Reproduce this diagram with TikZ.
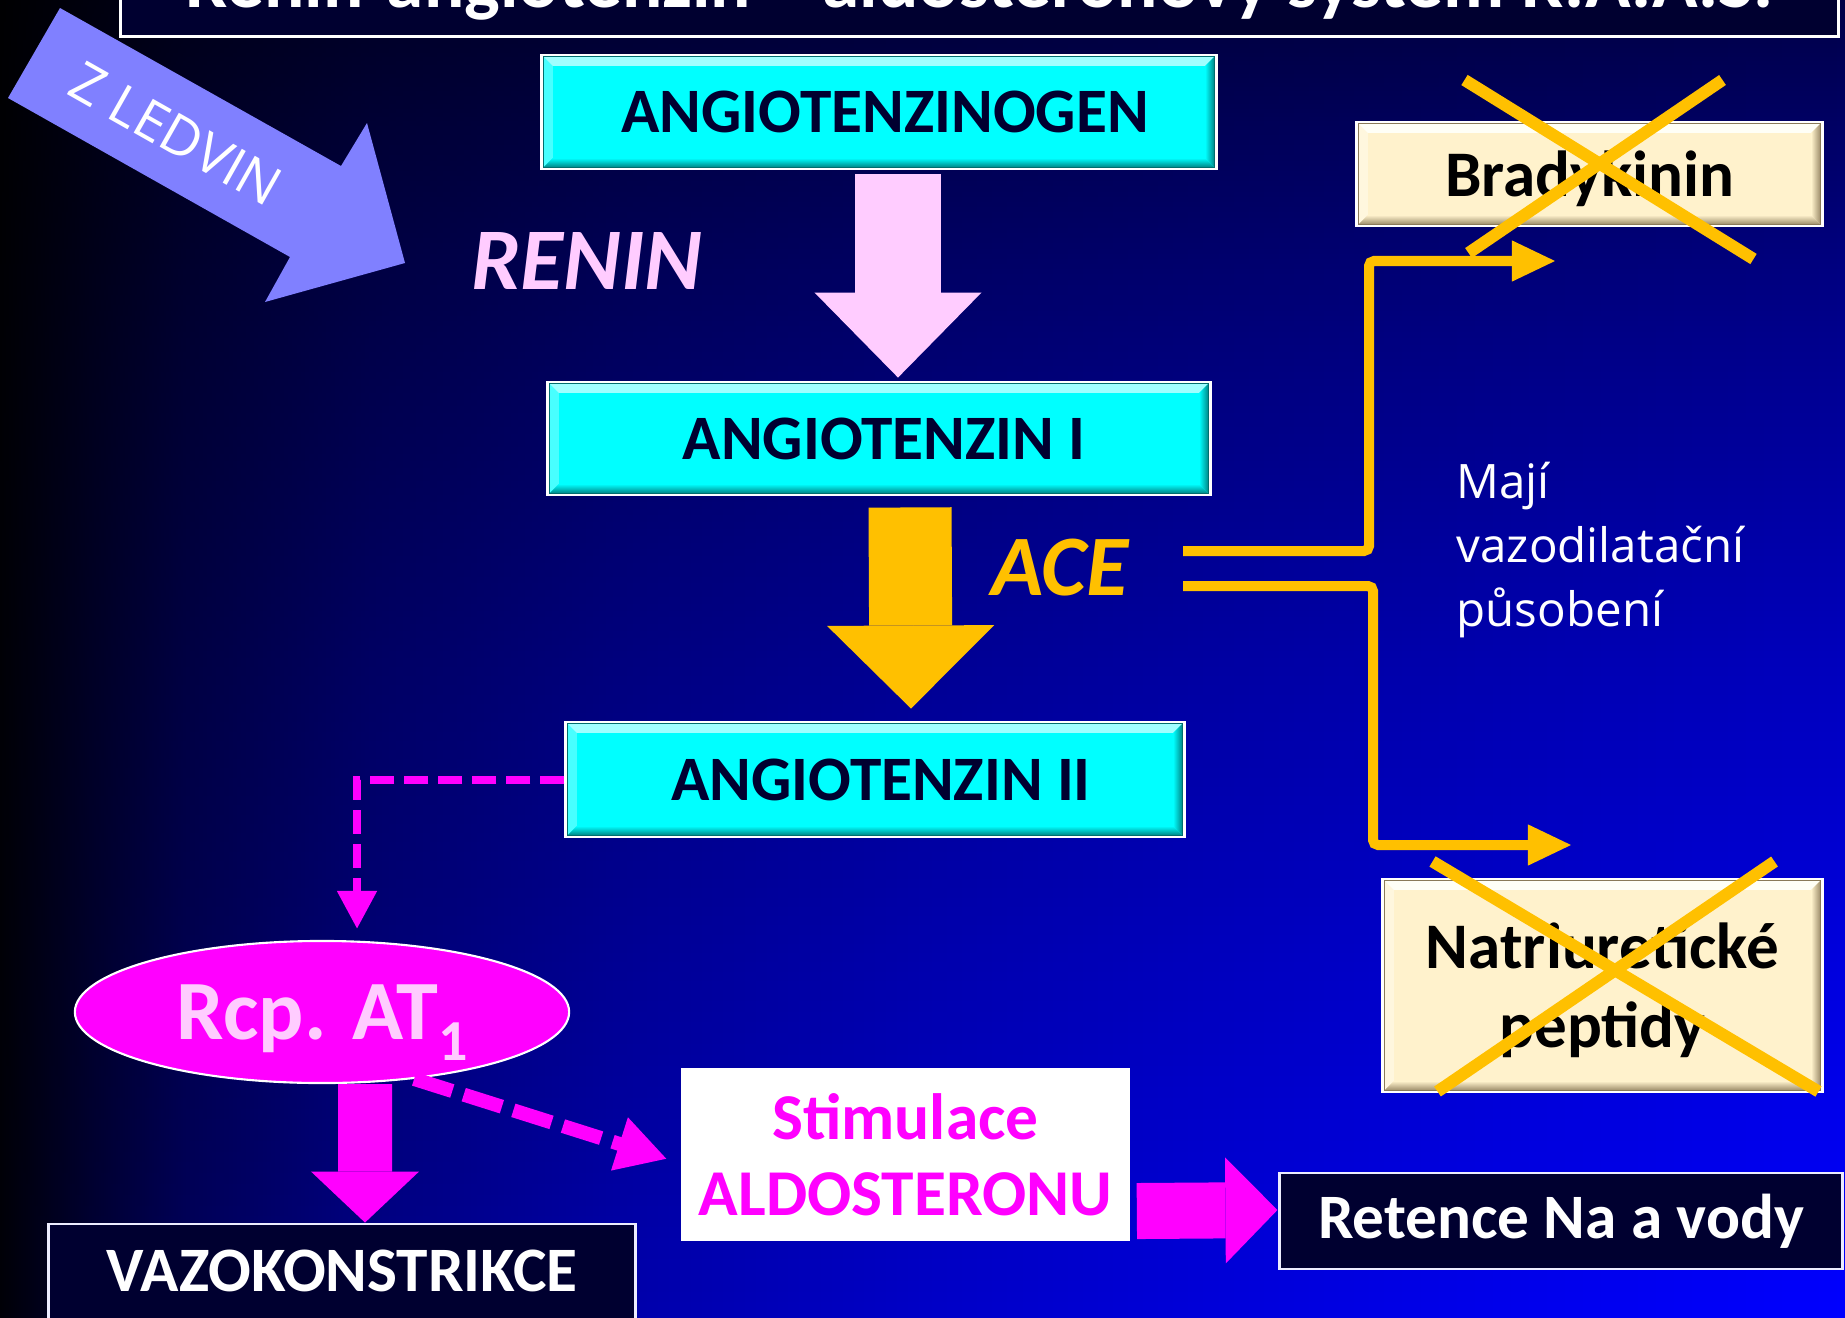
\documentclass[tikz,border=0pt]{standalone}
\usepackage{fontspec}
\setmainfont{Carlito}
\newfontfamily\opensans{Open Sans}
\usepackage{tikz}
\usetikzlibrary{arrows.meta,positioning,calc,shapes.geometric}
\definecolor{raasPanel}{HTML}{000030}
\definecolor{raasCyan}{HTML}{00FFFF}
\definecolor{raasCyanLt}{HTML}{A0FFFF}
\definecolor{raasTeal}{HTML}{006E6E}
\definecolor{raasInk}{HTML}{000030}
\definecolor{raasCream}{HTML}{FFF2CC}
\definecolor{raasCreamLt}{HTML}{FFFFF6}
\definecolor{raasCreamDk}{HTML}{8A7A58}
\definecolor{raasPink}{HTML}{FFCCFF}
\definecolor{raasGold}{HTML}{FFC000}
\definecolor{raasMagenta}{HTML}{FF00FF}
\definecolor{raasLilac}{HTML}{8080FF}
% backdrop: blue rising towards the bottom, darkened towards the left
\pgfdeclareverticalshading{raasSky}{100bp}{rgb(0bp)=(0,0,1); rgb(25bp)=(0,0,1); rgb(37.5bp)=(0,0,.88);
  rgb(50bp)=(0,0,.74); rgb(62.5bp)=(0,0,.55); rgb(70bp)=(0,0,.4); rgb(75bp)=(0,0,.28); rgb(100bp)=(0,0,.28)}
\pgfdeclarehorizontalshading{raasShade}{100bp}{gray(0bp)=(.03); gray(25bp)=(.03); gray(27.5bp)=(.2);
  gray(30bp)=(.35); gray(35bp)=(.52); gray(42.5bp)=(.68); gray(50bp)=(.78); gray(62.5bp)=(.9);
  gray(75bp)=(1); gray(100bp)=(1)}
\tikzset{
  bevel/.style n args={3}{fill=#1,path picture={
    \fill[#2] (path picture bounding box.north west) -- (path picture bounding box.north east)
      -- ([shift={(-1.1mm,-1.1mm)}]path picture bounding box.north east)
      -- ([shift={(1.1mm,-1.1mm)}]path picture bounding box.north west) -- cycle;
    \fill[#2,opacity=.45] (path picture bounding box.north west) -- ([shift={(1.1mm,-1.1mm)}]path picture bounding box.north west)
      -- ([shift={(1.1mm,1.1mm)}]path picture bounding box.south west) -- (path picture bounding box.south west) -- cycle;
    \shade[top color=#1,bottom color=#3] (path picture bounding box.south west) -- (path picture bounding box.south east)
      -- ([shift={(-1.1mm,1.1mm)}]path picture bounding box.south east)
      -- ([shift={(1.1mm,1.1mm)}]path picture bounding box.south west) -- cycle;
    \shade[left color=#1,right color=#3] (path picture bounding box.north east) -- (path picture bounding box.south east)
      -- ([shift={(-1.1mm,1.1mm)}]path picture bounding box.south east)
      -- ([shift={(-1.1mm,-1.1mm)}]path picture bounding box.north east) -- cycle;
    \draw[#3,line width=1.2pt] (path picture bounding box.south west) rectangle (path picture bounding box.north east);
  }},
  chem box/.style={bevel={raasCyan}{raasCyanLt}{raasTeal},draw=white,line width=.8pt,
    text=raasInk,font=\bfseries\fontsize{18}{20}\selectfont,inner sep=0pt},
  cream box/.style={bevel={raasCream}{raasCreamLt}{raasCreamDk},draw=white,line width=.8pt,
    text=black,font=\bfseries\fontsize{18.5}{22.5}\selectfont,align=center,inner sep=0pt,text depth=0pt},
  panel box/.style={draw=white!85!raasLilac,line width=.8pt,fill=raasPanel,text=white,
    font=\bfseries\fontsize{18}{20}\selectfont,inner sep=0pt},
  title box/.style={draw=white,line width=.8pt,fill=raasPanel,text=white,
    font=\bfseries\fontsize{21.4}{24}\selectfont,inner sep=0pt},
  enzyme/.style={inner sep=0pt,font=\bfseries\itshape\fontsize{#1}{#1}\selectfont},
  fat arrow/.style n args={3}{line width=#1,-{Triangle[length=#2,width=#3,line width=0pt]}},
  gold line/.style={raasGold,line width=.1cm,rounded corners=.05cm,-{Triangle[length=.44cm,width=.38cm]}},
  gold cross/.style={raasGold,line width=.12cm},
  link dash/.style={raasMagenta,line width=.08cm,dash pattern=on .24cm off .1cm,-{Triangle[length=.38cm,width=.38cm]}}
}
\begin{document}
\begin{tikzpicture}[x=0.01cm,y=-0.01cm]
\useasboundingbox (0,0) rectangle (1845,1318);
\clip (0,0) rectangle (1845,1318);
\shade[shading=raasSky] (0,0) rectangle (1845,1318);
\begin{scope}[blend mode=multiply]
\shade[shading=raasShade] (0,0) rectangle (1845,1318);
\end{scope}
% title, cut off by the top edge
\node[title box,anchor=south,minimum width=17.17cm,minimum height=.99cm] (title) at (979.5,38) {Renin-angiotenzin – aldosteronový systém R.A.A.S.};
% arrow coming from the kidneys
\fill[raasLilac] (60,8) -- (341,166) -- (367,123) -- (405,263) -- (265,302) -- (290,257) -- (8,98) -- cycle;
\node[rotate=-29.5,text=white,inner sep=0pt,font=\opensans\fontsize{15.5}{18}\selectfont] (kidney) at (176,134) {Z LEDVIN};
% cascade
\node[chem box,minimum width=6.74cm,minimum height=1.14cm] (ago) at (879,112) {\hspace*{.12cm}ANGIOTENZINOGEN};
\node[chem box,minimum width=6.62cm,minimum height=1.13cm] (at1) at (879,438.5) {\hspace*{.1cm}ANGIOTENZIN I};
\node[chem box,minimum width=6.18cm,minimum height=1.15cm] (at2) at (875,779.5) {\hspace*{.12cm}ANGIOTENZIN II};
\node[enzyme=25,text=raasPink] (renin) at (587,261) {RENIN};
\node[enzyme=24.5,text=raasGold] (ace) at (1060,568) {ACE};
\draw[fat arrow={.85cm}{.85cm}{1.67cm},raasPink] ([xshift=.19cm,yshift=-.04cm]ago.south) -- ([xshift=.19cm,yshift=.03cm]at1.north);
\draw[fat arrow={.83cm}{.83cm}{1.67cm},raasGold] ([xshift=.31cm,yshift=-.11cm]at1.south) -- ([xshift=.36cm,yshift=.12cm]at2.north);
% vasodilators broken down by ACE
\node[cream box,minimum width=4.65cm,minimum height=1.04cm] (brady) at (1589.5,174) {Bradykinin};
\node[cream box,minimum width=4.39cm,minimum height=2.13cm] (natri) at (1602.5,985.5) {Natriuretické\\peptidy};
\node[anchor=north west,align=left,inner sep=0pt,text=white,font=\opensans\fontsize{13.5}{18.2}\selectfont] (maji) at (1456,461) {Mají\\vazodilatační\\působení};
\coordinate (brady in) at (1556,261);
\coordinate (natri in) at (1572,845);
\draw[gold line] ($(ace)+(123,-17)$) -| ($(brady in)+(-187,0)$) -- (brady in);
\draw[gold line] ($(ace)+(123,18)$) -| ($(natri in)+(-199,0)$) -- (natri in);
\draw[gold cross] ($(brady)+(-125,-94)$) -- ($(brady)+(164,85)$) ($(brady)+(133,-94)$) -- ($(brady)+(-121,79)$);
\draw[gold cross] ($(natri)+(-170,-124)$) -- ($(natri)+(216,106)$) ($(natri)+(172,-124)$) -- ($(natri)+(-165,106)$);
% AT1 receptor and its effects
\node[ellipse,fill=raasMagenta,draw=white,line width=.6pt,minimum width=4.94cm,minimum height=1.42cm,inner sep=0pt,
  text=raasPink,text depth=0pt,font=\bfseries\fontsize{24}{26}\selectfont] (rcp) at (322,1012) {Rcp. AT\raisebox{-6pt}{\fontsize{16.5}{16.5}\selectfont 1}};
\node[panel box,minimum width=5.86cm,minimum height=1.06cm,text depth=.12cm] (vazo) at (342,1277) {VAZOKONSTRIKCE};
\node[fill=white,minimum width=4.49cm,minimum height=1.73cm,inner sep=0pt,align=center,text=raasMagenta,
  font=\bfseries\fontsize{18.6}{21.6}\selectfont] (stim) at (905.5,1154.5) {Stimulace\\ALDOSTERONU};
\node[panel box,minimum width=5.62cm,minimum height=.96cm] (ret) at (1561,1221) {Retence Na a vody};
\draw[link dash] (at2.west) -| ([xshift=.35cm,yshift=.11cm]rcp.north);
\draw[link dash,line width=.14cm,dash pattern=on .4cm off .12cm,-{Triangle[length=.5cm,width=.52cm]}] (rcp.-36) -- ([xshift=-.13cm,yshift=-.045cm]stim.west);
\draw[fat arrow={.54cm}{.51cm}{1.08cm},raasMagenta] ([xshift=.43cm]rcp.south) -- ([xshift=.23cm]vazo.north);
\draw[fat arrow={.56cm}{.52cm}{1.06cm},raasMagenta] ([xshift=.06cm,yshift=-.565cm]stim.east) -- ([xshift=-.01cm,yshift=.11cm]ret.west);
\end{tikzpicture}
\end{document}
